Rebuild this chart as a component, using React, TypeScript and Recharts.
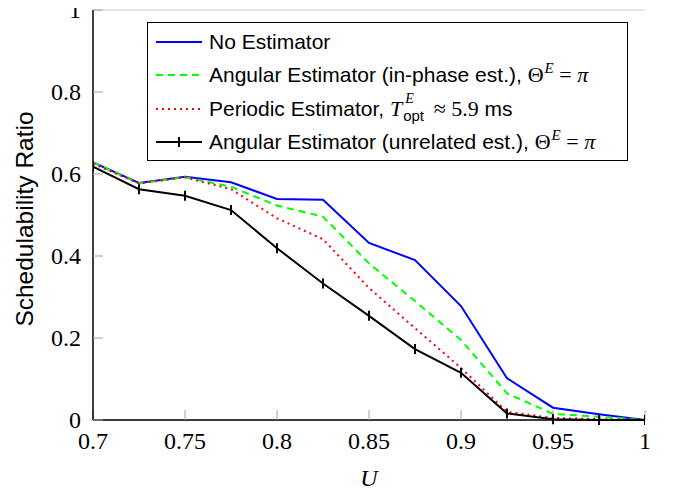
import React from 'react';
import { LineChart, Line, XAxis, YAxis, CartesianGrid, Legend } from 'recharts';

const uValues = [0.7, 0.725, 0.75, 0.775, 0.8, 0.825, 0.85, 0.875, 0.9, 0.925, 0.95, 0.975, 1];
const noEstimator = [0.628, 0.578, 0.593, 0.58, 0.539, 0.537, 0.432, 0.39, 0.278, 0.102, 0.03, 0.014, 0];
const angularInPhase = [0.628, 0.577, 0.592, 0.569, 0.523, 0.496, 0.382, 0.29, 0.195, 0.065, 0.015, 0.008, 0];
const periodic = [0.625, 0.577, 0.592, 0.563, 0.492, 0.441, 0.322, 0.224, 0.127, 0.02, 0.005, 0.002, 0];
const angularUnrelated = [0.618, 0.563, 0.547, 0.512, 0.419, 0.333, 0.254, 0.173, 0.115, 0.016, 0.002, 0, 0];

const xTicks = [0.7, 0.75, 0.8, 0.85, 0.9, 0.95, 1];
const yTicks = [0, 0.2, 0.4, 0.6, 0.8, 1];

const yAxisTitle = 'Schedulability Ratio';
const xAxisTitle = 'U';

const data = uValues.map((u, i) => ({
  u,
  noEst: noEstimator[i],
  inPhase: angularInPhase[i],
  periodic: periodic[i],
  unrelated: angularUnrelated[i],
}));

const SANS = '"Liberation Sans", Arial, Helvetica, sans-serif';
const SERIF_NAME = 'Liberation Serif';
const SERIF = '"Liberation Serif", "Times New Roman", serif';

const XTick = (props: any) => {
  const { x, y, payload } = props;
  return (
    <text x={x} y={y} dy="0.71em" textAnchor="middle" fontFamily={SERIF_NAME} fontSize={24} fill="#000">
      {String(payload.value)}
    </text>
  );
};

const YTick = (props: any) => {
  const { x, y, payload } = props;
  return (
    <text x={x} y={y} dy="0.34em" textAnchor="end" fontFamily={SERIF_NAME} fontSize={24} fill="#000">
      {String(payload.value)}
    </text>
  );
};

const TickDot = (props: any) => {
  const { cx, cy, index } = props;
  if (cx == null || cy == null) return <g key={`d${index}`} />;
  return <line key={`d${index}`} x1={cx} x2={cx} y1={cy - 5} y2={cy + 5} stroke="#000" strokeWidth={2} />;
};

const Sample = ({ color, dash, marker }: { color: string; dash?: string; marker?: boolean }) => (
  <svg width={46} height={14} style={{ display: 'block', flex: 'none' }}>
    <line x1={0} x2={46} y1={7} y2={7} stroke={color} strokeWidth={2} strokeDasharray={dash} />
    {marker ? <line x1={23} x2={23} y1={2} y2={12} stroke={color} strokeWidth={2} /> : null}
  </svg>
);

const mathStyle: React.CSSProperties = { fontFamily: SERIF, fontSize: 22 };

const Theta = () => (
  <span style={mathStyle}>
    Θ<span style={{ fontStyle: 'italic', fontSize: 15, position: 'relative', top: -9, marginLeft: 1, lineHeight: 1 }}>E</span>
    {' = '}
    <span style={{ fontStyle: 'italic' }}>π</span>
  </span>
);

const Topt = () => (
  <span style={mathStyle}>
    <span style={{ fontStyle: 'italic' }}>T</span>
    <span style={{ display: 'inline-block', position: 'relative', width: 26, height: 10 }}>
      <span style={{ position: 'absolute', left: 3, top: -14, fontStyle: 'italic', fontSize: 14, lineHeight: 1 }}>E</span>
      <span style={{ position: 'absolute', left: 1, top: 2, fontFamily: SANS, fontSize: 15, lineHeight: 1 }}>opt</span>
    </span>
    {' ≈ 5.9'}
  </span>
);

const rowStyle: React.CSSProperties = {
  display: 'flex',
  alignItems: 'center',
  height: 33.5,
  paddingLeft: 8,
  whiteSpace: 'nowrap',
};

const LegendBox = () => (
  <div
    style={{
      width: 481,
      height: 139,
      boxSizing: 'border-box',
      border: '1px solid #000',
      background: '#fff',
      fontFamily: SANS,
      fontSize: 21,
      color: '#000',
      paddingTop: 2,
    }}
  >
    <div style={rowStyle}>
      <Sample color="#0000ff" />
      <span style={{ marginLeft: 7 }}>No Estimator</span>
    </div>
    <div style={rowStyle}>
      <Sample color="#00ff00" dash="7 5" />
      <span style={{ marginLeft: 7 }}>
        Angular Estimator (in-phase est.), <Theta />
      </span>
    </div>
    <div style={rowStyle}>
      <Sample color="#ff0000" dash="2 4" />
      <span style={{ marginLeft: 7 }}>
        Periodic Estimator, <Topt /> ms
      </span>
    </div>
    <div style={rowStyle}>
      <Sample color="#000000" marker />
      <span style={{ marginLeft: 7 }}>
        Angular Estimator (unrelated est.), <Theta />
      </span>
    </div>
  </div>
);

export default function App() {
  return (
    <div style={{ margin: '-8px 0 0 -8px', width: 673, height: 493 }}>
      <LineChart
        width={673}
        height={493}
        data={data}
        margin={{ top: 10, right: 28, bottom: 0, left: 0 }}
        style={{ fontFamily: SERIF }}
      >
        <CartesianGrid vertical={false} stroke="#d0d0d0" strokeWidth={1} />
        <XAxis
          xAxisId="b"
          dataKey="u"
          type="number"
          domain={[0.7, 1]}
          ticks={xTicks}
          allowDataOverflow
          height={73}
          tickSize={-10}
          tickMargin={22}
          tickLine={{ stroke: '#a0a0a0' }}
          axisLine={{ stroke: '#000', strokeWidth: 1.5 }}
          tick={XTick}
          label={{
            value: xAxisTitle,
            content: (p: any) => (
              <text
                x={p.viewBox.x + p.viewBox.width / 2}
                y={p.viewBox.y + 66}
                textAnchor="middle"
                fontFamily={SERIF_NAME}
                fontSize={24}
                fontStyle="italic"
                fill="#000"
              >
                {xAxisTitle}
              </text>
            ),
          }}
        />
        <XAxis
          xAxisId="t"
          orientation="top"
          dataKey="u"
          type="number"
          domain={[0.7, 1]}
          ticks={xTicks}
          allowDataOverflow
          height={0}
          tickSize={-10}
          tick={false}
          tickLine={{ stroke: '#a0a0a0' }}
          axisLine={{ stroke: '#000', strokeWidth: 1.5 }}
        />
        <YAxis
          yAxisId="l"
          type="number"
          domain={[0, 1]}
          ticks={yTicks}
          width={93}
          tickSize={-10}
          tickMargin={22}
          tickLine={{ stroke: '#a0a0a0' }}
          axisLine={{ stroke: '#000', strokeWidth: 1.5 }}
          tick={YTick}
          label={{
            value: yAxisTitle,
            content: (p: any) => {
              const cx = p.viewBox.x + 33;
              const cy = p.viewBox.y + p.viewBox.height / 2 + 4;
              return (
                <text
                  x={cx}
                  y={cy}
                  textAnchor="middle"
                  transform={`rotate(-90 ${cx} ${cy})`}
                  fontFamily="Liberation Sans"
                  fontSize={24.5}
                  fill="#000"
                >
                  {yAxisTitle}
                </text>
              );
            },
          }}
        />
        <YAxis
          yAxisId="r"
          orientation="right"
          type="number"
          domain={[0, 1]}
          ticks={yTicks}
          width={0}
          tickSize={-10}
          tick={false}
          tickLine={{ stroke: '#a0a0a0' }}
          axisLine={{ stroke: '#000', strokeWidth: 1.5 }}
        />
        <Line xAxisId="b" yAxisId="l" dataKey="noEst" stroke="#0000ff" strokeWidth={2} dot={false} isAnimationActive={false} />
        <Line xAxisId="b" yAxisId="l" dataKey="inPhase" stroke="#00ff00" strokeWidth={2} strokeDasharray="7 5" dot={false} isAnimationActive={false} />
        <Line xAxisId="b" yAxisId="l" dataKey="periodic" stroke="#ff0000" strokeWidth={2} strokeDasharray="2 4" dot={false} isAnimationActive={false} />
        <Line xAxisId="b" yAxisId="l" dataKey="unrelated" stroke="#000000" strokeWidth={2} dot={TickDot} isAnimationActive={false} />
        <Legend
          layout="vertical"
          align="center"
          verticalAlign="middle"
          wrapperStyle={{ left: 147, top: 22, width: 481 }}
          content={() => <LegendBox />}
        />
      </LineChart>
    </div>
  );
}
